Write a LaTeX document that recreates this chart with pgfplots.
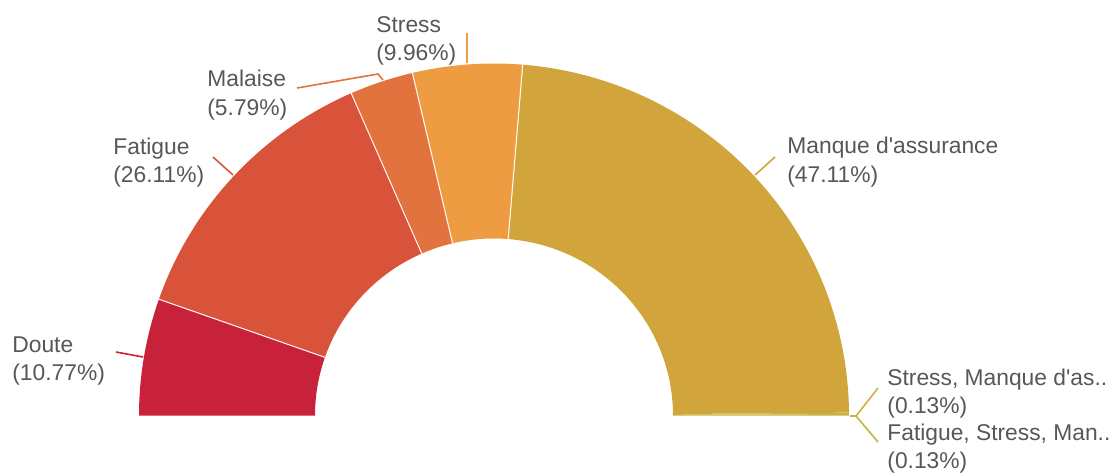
\documentclass[border=0pt]{standalone}
\usepackage{pgfplots}
\pgfplotsset{compat=1.18}
\usepackage{fontspec}
\setmainfont{Liberation Sans}
\definecolor{cDoute}{HTML}{C8213A}
\definecolor{cFatigue}{HTML}{D9533A}
\definecolor{cMalaise}{HTML}{E2733E}
\definecolor{cStress}{HTML}{EE9C41}
\definecolor{cManque}{HTML}{D1A53B}
\definecolor{cSlA}{HTML}{CDB03E}
\definecolor{cSlB}{HTML}{C4B443}
\definecolor{cTxt}{HTML}{575757}
\newcommand{\cum}{0}
\newcommand{\slice}[2]{%
  \pgfmathsetmacro\pa{\cum}%
  \pgfmathsetmacro\pb{\cum+#1}%
  \edef\doslice{\noexpand\addplot[fill=#2, draw=none, domain=0:3, samples=301]
    ({494+rx(x)*cos(ang(x,\pa,\pb))},{415.5-ry(x)*sin(ang(x,\pa,\pb))});}%
  \doslice
  \global\let\cum\pb
}
\newcommand{\sep}[1]{%
  \edef\dosep{\noexpand\addplot[white, line width=1.1pt, domain=0:1, samples=2]
    ({494+(355-176*x)*cos(th(#1))},{415.5-(352-175*x)*sin(th(#1))});}%
  \dosep
}
\newcommand{\lab}[3]{\node[anchor=base west, text=cTxt, inner sep=0pt, font=\fontsize{11.4}{14}\selectfont] at (axis cs:#1,#2) {#3};}
\begin{document}
\begin{tikzpicture}
\begin{axis}[
  x=0.5pt, y=0.5pt, xmin=0, xmax=1109, ymin=0, ymax=473,
  y dir=reverse, hide axis, clip=false, scale only axis,
  declare function={
    th(\p)=180-1.8*\p;
    ang(\t,\a,\b)=(\t<1)?(th(\a)+\t*(th(\b)-th(\a))):((\t<2)?th(\b):(th(\b)-(\t-2)*(th(\b)-th(\a))));
    kk(\t)=(\t<1)?0:((\t<2)?(\t-1):1);
    rx(\t)=355-176*kk(\t);
    ry(\t)=352-175*kk(\t);
  },
]
% slices: percentage, colour
\slice{10.77}{cDoute}\sep{\cum}
\slice{26.11}{cFatigue}\sep{\cum}
\slice{5.79}{cMalaise}\sep{\cum}
\slice{9.96}{cStress}\sep{\cum}
\slice{47.11}{cManque}
\slice{0.13}{cSlA}
\slice{0.13}{cSlB}
% leader lines
\addplot[cDoute, line width=0.8pt] coordinates {(116,352) (143,357)};
\addplot[cFatigue, line width=0.8pt] coordinates {(213,157) (233,175)};
\addplot[cMalaise, line width=0.8pt] coordinates {(297,88) (378,74) (383,80)};
\addplot[cStress, line width=0.8pt] coordinates {(467,33) (467,63)};
\addplot[cManque, line width=0.8pt] coordinates {(775,157) (755,175)};
\addplot[cSlA, line width=0.8pt] coordinates {(850,416) (856,416) (878,388)};
\addplot[cSlB, line width=0.8pt] coordinates {(856,416) (878,442)};
% labels
\lab{12}{352}{Doute}
\lab{12}{380}{(10.77\%)}
\lab{113}{154}{Fatigue}
\lab{113}{182}{(26.11\%)}
\lab{207}{86}{Malaise}
\lab{207}{115}{(5.79\%)}
\lab{376}{32}{Stress}
\lab{376}{60}{(9.96\%)}
\lab{787}{153}{Manque d\textquotesingle assurance}
\lab{787}{182}{(47.11\%)}
\lab{887}{385}{Stress, Manque d\textquotesingle as..}
\lab{887}{413}{(0.13\%)}
\lab{887}{440}{Fatigue, Stress, Man..}
\lab{887}{468}{(0.13\%)}
\end{axis}
\pgfresetboundingbox
\path[use as bounding box] (current axis.south west) rectangle (current axis.north east);
\end{tikzpicture}
\end{document}
